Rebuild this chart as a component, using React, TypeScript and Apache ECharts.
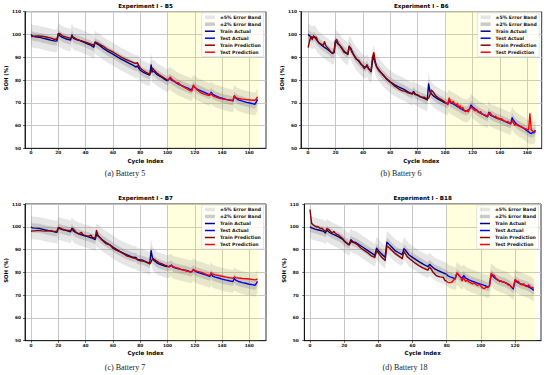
import React, { useEffect, useRef } from 'react';
import * as echarts from 'echarts';

type P = [number, number][];

// ---------------- Battery 5 ----------------
const b5TrainActual: P = [[0,100],[1,99.3],[3,99],[6,98.8],[9,98.3],[12,97.9],[15,97.4],[18,97.1],[19,97.2],[20,100.4],[21,99.5],[23,98.7],[26,98],[29,97.5],[30,99.8],[31,98.3],[33,97.8],[35,97.5],[38,96.8],[41,96],[44,95.2],[46,94.4],[47,96.7],[48,96],[50,95.3],[53,93.9],[56,92.7],[60,91.4],[63,90.3],[66,89.2],[69,88.3],[72,87.3],[75,86.4],[77,85.7],[78,86.2],[79,85.1],[80,84.3],[82,83.5],[84,82.9],[86,82.4],[87,82.2],[88,86.6],[89,83.6],[90,83.8],[92,82.6],[94,81.8],[96,81.1],[98,80.3],[100,79.6]];
const b5TrainPred: P = [[0,99.1],[2,99.2],[5,99.4],[8,99.2],[11,98.9],[14,98.5],[17,97.9],[19,97.9],[20,100],[21,100.4],[23,99.4],[26,98.8],[29,98.3],[30,99],[31,98.8],[34,97.7],[37,97.2],[40,96.6],[43,96],[46,95.3],[47,96.4],[48,96.5],[50,95.8],[53,94.8],[56,93.5],[60,92.3],[63,91.2],[66,90.1],[69,89.2],[72,88.4],[75,87.6],[77,87.3],[78,87.6],[79,86.3],[80,85.2],[82,84.3],[84,83.5],[86,82.8],[87,82.5],[88,83.5],[89,85.2],[90,84.5],[92,83.2],[94,82.3],[96,81.5],[98,80.7],[100,80]];
const b5TestActual: P = [[100,79.6],[101,80.4],[102,80.8],[103,80],[105,79.4],[107,78.5],[109,77.9],[111,77.4],[113,76.9],[115,76.4],[117,75.8],[118,76],[119,77.5],[120,76.8],[122,75.9],[125,75.1],[128,74.3],[130,73.8],[131,73.6],[132,74.6],[133,73.8],[135,73.1],[138,72.4],[140,72],[143,71.5],[146,71.1],[148,70.8],[149,73],[150,72.1],[152,71.3],[155,70.7],[158,70.2],[161,69.8],[163,69.5],[164,69.3],[165,70.3],[166,71.5]];
const b5TestPred: P = [[100,80],[101,80.3],[102,81.3],[103,80.6],[104,80],[106,79],[107,78.8],[108,78.8],[110,77.6],[112,76.9],[114,76.2],[116,75.6],[117,75.2],[118,75.3],[119,77.7],[120,76.9],[122,75.5],[124,74.6],[126,74],[128,73.6],[130,73.3],[131,73.3],[132,74.1],[133,73.1],[135,72.6],[138,72],[140,71.7],[143,71.4],[146,71.2],[148,71.1],[149,73],[150,72.3],[152,71.9],[155,71.6],[158,71.4],[161,71.2],[164,71.1],[165,71.6],[166,72.6]];

// ---------------- Battery 6 ----------------
const b6TrainActual: P = [[0,100],[1,99.5],[2,99],[3,98.5],[4,99],[5,98.8],[6,97.8],[8,96.3],[10,95.2],[12,94.3],[14,93.5],[16,92.5],[17,92],[18,91.8],[19,92],[20,97],[21,96.5],[22,95.7],[23,95.3],[25,93.5],[27,92.3],[29,91.5],[30,94.6],[31,94],[33,91.5],[35,89.5],[37,88.2],[39,86.7],[41,85.8],[42,85.5],[43,86.5],[44,85.2],[46,83.6],[47,88.5],[48,90.3],[49,87.5],[50,86],[52,84.2],[55,82],[58,80.2],[60,79.2],[63,78],[66,77],[70,75.9],[73,74.8],[76,73.8],[77,75],[78,74],[80,73.2],[83,72.4],[86,71.6],[87,71.2],[88,78.3],[89,74.8],[90,74],[92,72.8],[95,71.6],[98,70.6],[100,70]];
const b6TrainPred: P = [[0,94.2],[1,97],[2,99],[3,97.8],[4,99.4],[5,98.5],[6,98.8],[7,97],[8,96.2],[10,95.6],[11,95.2],[12,96.8],[13,95],[15,93.6],[17,92],[18,91.6],[19,93],[20,97.4],[21,97.7],[22,96],[24,94.6],[25,94],[26,92.3],[28,91.6],[29,91.2],[30,94.8],[31,94],[32,92.2],[34,90.3],[35,89.2],[37,88.6],[39,86.8],[40,86],[41,85],[42,85.6],[43,86.7],[44,85],[46,84],[47,90],[48,92],[49,88],[50,85.8],[52,83.8],[55,82.2],[57,80.6],[59,79.5],[61,78.6],[63,77.4],[65,76.6],[67,75.8],[69,75.2],[71,75],[73,74.4],[75,74],[77,74.6],[78,73.6],[80,73.5],[82,72.6],[85,72.4],[87,71.6],[88,72],[89,73.6],[90,75.5],[91,75],[93,73.2],[95,72.2],[97,71.5],[100,70.3]];
const b6TestActual: P = [[100,70],[101,69.8],[102,69.5],[103,71],[104,70],[106,69.5],[108,68.7],[110,68],[112,67.2],[114,66.6],[116,66.4],[118,67.4],[119,69],[120,68.2],[122,67.2],[125,65.8],[128,64.8],[131,63.8],[132,65.8],[133,64.6],[135,64],[138,63.2],[140,62.8],[143,62],[145,61.5],[147,60.9],[148,60.9],[149,63.4],[150,62.2],[152,60.8],[155,59.6],[158,58.6],[160,57.6],[161,57.2],[162,56.8],[163,56.5],[164,57],[165,56.8],[166,58]];
const b6TestPred: P = [[100,70.3],[101,69.9],[102,69.2],[103,72],[104,70.6],[105,70],[106,70.6],[107,69.5],[108,69],[109,69.6],[110,68.1],[111,68.6],[112,67.2],[113,67.9],[114,66.6],[115,66.1],[116,66.6],[117,66],[118,67.4],[119,68.1],[120,67.6],[121,67],[122,66.5],[123,67.1],[124,66],[125,65.6],[126,66.1],[127,65],[128,64.9],[130,64.4],[131,64],[132,65.2],[133,65.6],[134,64.6],[135,64.3],[136,63.8],[137,64.1],[138,63.1],[139,63.3],[140,62.6],[141,63],[142,62.6],[143,62],[145,61.6],[146,61.8],[147,61],[148,60.8],[149,62.1],[150,61.1],[151,60.1],[152,60.6],[153,60],[155,59.6],[157,59],[158,58.7],[160,58.3],[161,58],[162,65.2],[163,58.1],[164,57.6],[165,57.1],[166,57]];

// ---------------- Battery 7 ----------------
const b7TrainActual: P = [[0,100],[1,99.5],[3,99.4],[6,99.3],[8,99],[10,98.7],[13,98.3],[16,98],[18,97.7],[19,97.6],[20,99.4],[21,99.2],[23,98.8],[26,98.3],[29,97.8],[30,99.4],[31,98.2],[33,97.4],[35,96.9],[38,96.3],[40,95.9],[42,95.6],[44,95.2],[46,94.7],[47,94.4],[48,96.6],[49,96],[50,95.5],[52,94.4],[55,93.1],[58,92],[60,91.1],[62,90.3],[65,89.2],[68,88.3],[70,87.8],[73,87],[75,86.6],[77,86.5],[78,85.6],[80,85.5],[82,85.3],[84,84.7],[86,84.2],[87,84],[88,89.5],[89,86.2],[90,85.3],[92,84.3],[94,83.6],[96,83.2],[98,82.8],[100,82.5]];
const b7TrainPred: P = [[0,98],[1,98.2],[3,98.2],[5,98.4],[8,98.2],[11,98.1],[14,98.3],[17,97.9],[19,97.9],[20,99.7],[21,99.6],[23,98.9],[25,98.6],[28,98.3],[30,98.6],[31,99.1],[33,97.6],[35,96.9],[37,97.5],[38,96.6],[40,96.1],[42,95.9],[44,96.3],[45,95.3],[47,95],[48,98.4],[49,96.4],[50,95.6],[52,94.2],[55,92.6],[58,92],[60,90.6],[62,89.9],[65,89.1],[68,88.1],[70,87.3],[72,86.9],[75,86.3],[77,86],[78,85.6],[80,85.1],[82,85],[84,84.6],[86,84],[87,83.7],[88,84.5],[89,86.1],[90,85.8],[92,85],[94,84.2],[96,83.7],[98,83.2],[100,82.8]];
const b7TestActual: P = [[100,82.5],[101,82.6],[103,83.2],[104,82.3],[106,81.9],[108,81.6],[110,81.3],[113,80.9],[115,80.6],[117,80.2],[118,80.4],[119,81.3],[120,80.6],[122,80],[125,79.5],[128,78.9],[130,78.5],[131,78.2],[132,79.3],[133,78.4],[135,77.9],[138,77.4],[140,77],[143,76.6],[146,76.2],[148,76],[149,77.3],[150,76.6],[152,76],[155,75.5],[158,75.1],[160,74.8],[163,74.5],[164,74.3],[165,75],[166,76]];
const b7TestPred: P = [[100,82.8],[101,82.3],[103,83],[104,82.6],[106,82.1],[108,81.8],[110,81.2],[113,80.8],[115,80.5],[117,80.1],[118,80.3],[119,81.2],[120,80.8],[122,80.4],[125,80],[128,79.2],[130,78.8],[131,78.7],[132,79.8],[133,79.3],[135,78.9],[138,78.5],[140,78.3],[143,77.9],[146,77.6],[148,77.4],[149,78],[150,77.7],[152,77.5],[155,77.3],[158,77.2],[160,77.1],[163,76.8],[164,76.7],[166,77]];

// ---------------- Battery 18 ----------------
const b18TrainActual: P = [[0,100],[1,99.5],[3,99],[5,98.6],[7,98.2],[8,98],[9,97.3],[10,98.5],[11,97.8],[13,96.9],[15,96.2],[17,95.5],[19,94.6],[20,93.7],[22,92.6],[23,92.3],[24,94.3],[25,93.5],[27,93],[29,92],[31,91],[33,90],[35,89],[37,88],[38,87.4],[39,90.6],[40,89.6],[42,88],[44,86.6],[45,93.2],[46,92.5],[48,91],[50,89.4],[52,88.6],[54,87.8],[55,90.4],[56,89.6],[58,87.6],[60,86.6],[62,85.6],[64,84.6],[66,83.7],[68,82.9],[69,82.5],[70,83.5],[71,82.8],[73,81.5],[75,80.8],[77,80.1],[79,79.4],[80,79.1]];
const b18TrainPred: P = [[0,107.6],[1,101.5],[2,100.8],[3,100.3],[4,100],[5,99.9],[6,99.2],[7,99.3],[8,98.6],[9,97.9],[10,99.2],[11,98.8],[12,98],[13,97.3],[14,97.9],[15,97],[17,96.2],[19,95],[20,94],[22,92.4],[23,92],[24,93.6],[25,93.2],[26,93],[28,92],[30,90.6],[32,89.5],[34,88.5],[36,87.2],[38,86.6],[39,89.6],[40,88.6],[42,86.6],[44,85.2],[45,91.6],[46,91],[47,90.4],[48,89.6],[50,88.2],[52,87.1],[53,86.6],[54,86],[55,89.2],[56,88],[57,86.8],[58,86.2],[60,85],[62,83.8],[64,82.8],[66,82],[68,81.3],[69,81],[70,82.3],[71,81.4],[72,80],[74,78.5],[76,78],[78,77.8],[79,76.5],[80,76]];
const b18TestActual: P = [[80,79.1],[81,78.3],[82,78],[83,77.8],[84,77.5],[85,77.1],[86,79.6],[87,78.8],[88,78],[89,77.5],[90,78.6],[91,77.6],[93,76.7],[95,76.1],[98,75.3],[100,74.8],[102,74.3],[103,74],[104,73.6],[105,74],[106,78.8],[107,78.4],[108,77.6],[110,76.6],[112,76],[114,75.6],[116,74.8],[117,74.3],[118,73.5],[119,72.7],[120,76.5],[121,75.8],[123,75],[125,74.5],[127,74],[129,73.2],[130,72.7],[131,72.1]];
const b18TestPred: P = [[80,76],[81,75.5],[82,75.5],[83,75.7],[84,76.5],[85,77.5],[86,79.7],[87,79],[88,78],[89,76.3],[90,77.6],[91,76],[92,76.5],[93,75.8],[94,75.5],[95,75],[96,75.3],[97,74.8],[98,74.2],[99,74.8],[100,74],[101,73.2],[102,72.8],[103,73.5],[104,73.3],[105,74],[106,79.5],[107,79],[108,78.5],[109,77.2],[110,76.8],[111,76],[112,76.2],[113,75.8],[114,75.5],[115,75.2],[116,74.5],[117,74.3],[118,73.5],[119,73.3],[120,76.8],[121,76.3],[122,76],[123,74.8],[124,74.5],[125,75],[126,74],[127,73.8],[128,74.5],[129,73.5],[130,73.4],[131,73]];

// ---------------- labels / ticks ----------------
const xTicksLong = [0, 20, 40, 60, 80, 100, 120, 140, 160];
const xTicksShort = [0, 20, 40, 60, 80, 100, 120];
const titles = ['Experiment I - B5', 'Experiment I - B6', 'Experiment I - B7', 'Experiment I - B18'];
const captions = ['(a) Battery 5', '(b) Battery 6', '(c) Battery 7', '(d) Battery 18'];
const testSpanStart = [100, 100, 100, 80];
const testSpanEnd = [167, 167, 167, 132];
const bandOuter = 5; // ±5 SOH points
const bandInner = 2; // ±2 SOH points
const legendNames = ['±5% Error Band', '±2% Error Band', 'Train Actual', 'Test Actual', 'Train Prediction', 'Test Prediction'];

const trainActuals = [b5TrainActual, b6TrainActual, b7TrainActual, b18TrainActual];
const trainPreds = [b5TrainPred, b6TrainPred, b7TrainPred, b18TrainPred];
const testActuals = [b5TestActual, b6TestActual, b7TestActual, b18TestActual];
const testPreds = [b5TestPred, b6TestPred, b7TestPred, b18TestPred];
const xTickSets = [xTicksLong, xTicksLong, xTicksLong, xTicksShort];

// ---------------- layout (positions & styles) ----------------
const layout = [
  { left: 25, top: 11.7, width: 241, height: 136.6, xMin: -4.4, xMax: 172.2, yLabelMargin: 4 },
  { left: 301, top: 11.7, width: 240.7, height: 136.6, xMin: -5.2, xMax: 170.6, yLabelMargin: 4 },
  { left: 25, top: 204, width: 241, height: 136.7, xMin: -4.4, xMax: 172.2, yLabelMargin: 4 },
  { left: 304.3, top: 204, width: 236.7, height: 136.7, xMin: -3.3, xMax: 135.2, yLabelMargin: 5.5 },
];
const captionPos = [[125, 173], [401, 173], [125, 367.7], [405, 367.7]];

const C_TRAIN_ACT = '#00008B';
const C_TEST_ACT = '#0000FF';
const C_TRAIN_PRED = '#8B0000';
const C_TEST_PRED = '#FF0000';
const C_BAND_LIGHT = 'rgba(128,128,128,0.2)';
const C_BAND_DARK = 'rgba(128,128,128,0.3)';
const C_LEG_DARK = 'rgba(128,128,128,0.42)';
const C_GRID = '#c2c2c2';
const FONT = 'DejaVu Sans';

function bandSeries(i: number, name: string, pts: P, off: number, color: string, z: number, extra: any = {}) {
  return {
    type: 'custom', name, xAxisIndex: i, yAxisIndex: i, z, silent: true, clip: true,
    color, itemStyle: { color },
    encode: { x: 0, y: 1 },
    data: pts,
    renderItem: (params: any, api: any) => {
      if (params.dataIndex !== 0) return null;
      const up = pts.map((p) => api.coord([p[0], p[1] + off]));
      const lo = pts.slice().reverse().map((p) => api.coord([p[0], p[1] - off]));
      return { type: 'polygon', silent: true, shape: { points: up.concat(lo) }, style: { fill: color } };
    },
    ...extra,
  };
}

function buildOption() {
  const grids: any[] = [];
  const xAxes: any[] = [];
  const yAxes: any[] = [];
  const series: any[] = [];
  const legends: any[] = [];
  const graphics: any[] = [];

  layout.forEach((L, i) => {
    grids.push({
      left: L.left, top: L.top, width: L.width, height: L.height,
      show: true, borderColor: '#000', borderWidth: 0.8, backgroundColor: 'transparent',
      containLabel: false, outerBoundsMode: 'none',
    });
    const ticks = xTickSets[i];
    xAxes.push({
      gridIndex: i, type: 'value', min: L.xMin, max: L.xMax,
      axisLine: { show: true, onZero: false, lineStyle: { color: '#000', width: 0.8 } },
      axisTick: { show: true, length: 2, inside: false, customValues: ticks, lineStyle: { color: '#000', width: 0.6 } },
      axisLabel: { customValues: ticks, fontSize: 4.3, fontWeight: 'bold', fontFamily: FONT, color: '#111', margin: 2.5 },
      splitLine: { show: true, lineStyle: { color: C_GRID, width: 0.9 } },
    });
    yAxes.push({
      gridIndex: i, type: 'value', min: 50, max: 110, interval: 10,
      axisLine: { show: true, onZero: false, lineStyle: { color: '#000', width: 0.8 } },
      axisTick: { show: true, length: 2, inside: false, lineStyle: { color: '#000', width: 0.6 } },
      axisLabel: { fontSize: 4.3, fontWeight: 'bold', fontFamily: FONT, color: '#111', margin: L.yLabelMargin, showMinLabel: true, showMaxLabel: true },
      splitLine: { show: true, lineStyle: { color: C_GRID, width: 0.9 } },
    });

    const actualAll: P = trainActuals[i].concat(testActuals[i].slice(1));
    series.push(bandSeries(i, '±5% Error Band', actualAll, bandOuter, C_BAND_LIGHT, 2, {
      markArea: {
        silent: true, z: 1,
        itemStyle: { color: 'rgba(255,255,0,0.13)' },
        data: [[{ xAxis: testSpanStart[i] }, { xAxis: testSpanEnd[i] }]],
      },
    }));
    series.push(bandSeries(i, '±2% Error Band', actualAll, bandInner, C_BAND_DARK, 2));

    const lines: [string, P, string][] = [
      ['Train Actual', trainActuals[i], C_TRAIN_ACT],
      ['Test Actual', testActuals[i], C_TEST_ACT],
      ['Train Prediction', trainPreds[i], C_TRAIN_PRED],
      ['Test Prediction', testPreds[i], C_TEST_PRED],
    ];
    lines.forEach(([name, data, color], k) => {
      series.push({
        type: 'line', xAxisIndex: i, yAxisIndex: i, symbol: 'none', silent: true,
        name, data, color, z: 3 + k,
        lineStyle: { width: 1.4, color, join: 'round' },
      });
    });

    const boxRight = L.left + L.width - 2.5;
    legends.push({
      orient: 'vertical', right: 550 - boxRight, top: L.top + 1,
      itemWidth: 10, itemHeight: 3.5, itemGap: 2,
      padding: [2, 2.5, 2, 2.5],
      backgroundColor: 'rgba(255,255,255,0.8)', borderColor: '#cccccc', borderWidth: 0.5, borderRadius: 1.5,
      selectedMode: false,
      textStyle: { fontSize: 4.6, fontWeight: 'bold', fontFamily: FONT, color: '#111', lineHeight: 5 },
      lineStyle: { width: 1.5 },
      data: legendNames.map((n, k) => k < 2
        ? { name: n, icon: 'rect', itemStyle: { color: k === 0 ? C_BAND_LIGHT : C_LEG_DARK, borderWidth: 0 } }
        : { name: n, itemStyle: { opacity: 0 } }),
    });

    const cx = L.left + L.width / 2;
    const bottom = L.top + L.height;
    graphics.push({
      type: 'text', x: cx, y: L.top - 5.7, silent: true,
      style: { text: titles[i], fontSize: 5.6, fontWeight: 'bold', fontFamily: FONT, fill: '#000', align: 'center', verticalAlign: 'middle' },
    });
    graphics.push({
      type: 'text', x: cx, y: bottom + 12.7, silent: true,
      style: { text: 'Cycle Index', fontSize: 5.6, fontWeight: 'bold', fontFamily: FONT, fill: '#000', align: 'center', verticalAlign: 'middle' },
    });
    graphics.push({
      type: 'text', x: L.left - 18.8 - (i === 3 ? 2 : 0), y: L.top + L.height / 2 - 2, rotation: Math.PI / 2, silent: true,
      style: { text: 'SOH (%)', fontSize: 5.3, fontWeight: 'bold', fontFamily: FONT, fill: '#000', align: 'center', verticalAlign: 'middle' },
    });
    graphics.push({
      type: 'text', x: captionPos[i][0], y: captionPos[i][1], silent: true,
      style: { text: captions[i], fontSize: 8, fontFamily: 'Liberation Serif', fill: '#222', align: 'center', verticalAlign: 'middle' },
    });
  });

  return {
    animation: false,
    backgroundColor: '#ffffff',
    grid: grids,
    xAxis: xAxes,
    yAxis: yAxes,
    legend: legends,
    series,
    graphic: graphics,
  };
}

export default function App() {
  const ref = useRef<HTMLDivElement>(null);
  useEffect(() => {
    if (!ref.current) return;
    const chart = echarts.init(ref.current, undefined, { renderer: 'svg' });
    chart.setOption(buildOption() as any);
    return () => chart.dispose();
  }, []);
  return (
    <div
      ref={ref}
      style={{ position: 'fixed', left: 0, top: 0, width: 550, height: 375, background: '#fff' }}
    />
  );
}
